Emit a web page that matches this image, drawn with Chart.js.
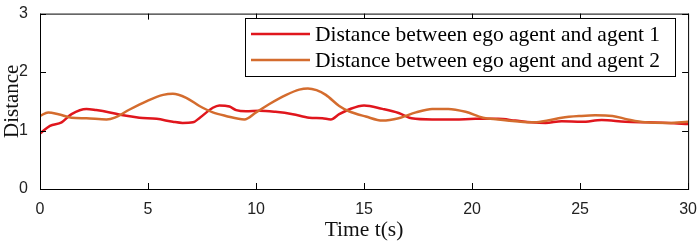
<!DOCTYPE html>
<html>
<head>
<meta charset="utf-8">
<script src="https://cdn.jsdelivr.net/npm/chart.js@4.4.0/dist/chart.umd.min.js"></script>
<style>
  html, body { margin: 0; padding: 0; background: #fff; }
  #wrap { width: 700px; height: 243px; }
</style>
</head>
<body>
<div id="wrap"><canvas id="distChart"></canvas></div>
<script>
// Distance between ego agent and agent 1 (red)
const agent1Time = [0, 0.46, 1.0, 1.46, 2.15, 2.6, 3.23, 3.85, 4.6, 5.4, 6.15, 6.6, 7.08, 7.4, 8.0, 8.3, 8.77, 9.08, 9.54, 10.15, 10.9, 11.7, 12.46, 13.07, 13.46, 13.85, 14.3, 15.0, 15.85, 16.6, 17.2, 18.15, 19.2, 20.15, 21.2, 22.0, 22.75, 23.4, 24.15, 25.07, 26.0, 27.1, 28.15, 29.1, 30];
const agent1Dist = [0.95, 1.08, 1.14, 1.28, 1.37, 1.35, 1.31, 1.26, 1.22, 1.2, 1.15, 1.13, 1.14, 1.22, 1.39, 1.43, 1.41, 1.35, 1.33, 1.34, 1.32, 1.28, 1.22, 1.21, 1.19, 1.28, 1.36, 1.43, 1.37, 1.3, 1.21, 1.19, 1.19, 1.2, 1.2, 1.17, 1.14, 1.13, 1.16, 1.15, 1.18, 1.15, 1.14, 1.13, 1.11];

// Distance between ego agent and agent 2 (orange)
const agent2Time = [0, 0.38, 0.85, 1.46, 2.15, 3.08, 3.46, 4.15, 4.92, 5.7, 6.15, 6.77, 7.38, 8.0, 8.6, 9.46, 10.0, 10.6, 11.4, 12.0, 12.4, 12.8, 13.23, 13.85, 14.3, 15.08, 15.85, 16.6, 17.4, 18.15, 18.9, 19.7, 20.5, 21.2, 22.0, 22.9, 23.5, 24.15, 25.07, 25.7, 26.5, 27.2, 28.0, 29.1, 30];
const agent2Dist = [1.25, 1.31, 1.28, 1.22, 1.21, 1.19, 1.22, 1.36, 1.5, 1.61, 1.63, 1.56, 1.42, 1.31, 1.25, 1.19, 1.31, 1.45, 1.61, 1.70, 1.72, 1.69, 1.61, 1.42, 1.33, 1.24, 1.17, 1.21, 1.31, 1.37, 1.37, 1.32, 1.22, 1.19, 1.16, 1.14, 1.17, 1.22, 1.25, 1.26, 1.25, 1.19, 1.14, 1.13, 1.15];

const seriesLabels = ['Distance between ego agent and agent 1', 'Distance between ego agent and agent 2'];
const xTicks = [0, 5, 10, 15, 20, 25, 30];
const yTicks = [0, 1, 2, 3];

const RED = '#e0161d';
const ORANGE = '#d46c2e';
const SERIF = '"Liberation Serif", "Times New Roman", serif';
const SANS = '"Liberation Sans", Arial, sans-serif';

function toPoints(xs, ys) {
    return xs.map((x, i) => ({ x: x, y: ys[i] }));
}

// box round the plot, inward ticks on all four sides, legend inside the box
const frameAndLegend = {
    id: 'frameAndLegend',
    afterDatasetsDraw(chart) {
        const ctx = chart.ctx;
        const a = chart.chartArea;
        const xs = chart.scales.x;
        const ys = chart.scales.y;
        ctx.save();
        ctx.strokeStyle = '#000';
        ctx.lineWidth = 1;
        ctx.strokeRect(a.left + 0.5, a.top + 0.5, a.right - a.left, a.bottom - a.top);
        ctx.beginPath();
        xTicks.forEach(v => {
            const px = Math.round(xs.getPixelForValue(v)) + 0.5;
            ctx.moveTo(px, a.bottom); ctx.lineTo(px, a.bottom - 6);
            ctx.moveTo(px, a.top); ctx.lineTo(px, a.top + 6);
        });
        yTicks.forEach(v => {
            const py = Math.round(ys.getPixelForValue(v)) + 0.5;
            ctx.moveTo(a.left, py); ctx.lineTo(a.left + 6, py);
            ctx.moveTo(a.right, py); ctx.lineTo(a.right - 6, py);
        });
        ctx.stroke();

        // legend
        const bx = 245.5, by = 18.5, bw = 430, bh = 58;
        ctx.fillStyle = '#fff';
        ctx.fillRect(bx, by, bw, bh);
        ctx.strokeRect(bx, by, bw, bh);
        ctx.font = '21.5px ' + SERIF;
        ctx.textBaseline = 'middle';
        const cols = [RED, ORANGE];
        seriesLabels.forEach((lab, i) => {
            const ly = 34 + i * 26;
            ctx.strokeStyle = cols[i];
            ctx.lineWidth = 2.5;
            ctx.beginPath();
            ctx.moveTo(251, ly); ctx.lineTo(310, ly);
            ctx.stroke();
            ctx.fillStyle = '#000';
            ctx.fillText(lab, 315, ly + 1);
        });
        ctx.restore();
    }
};

const ctx = document.getElementById('distChart').getContext('2d');
new Chart(ctx, {
    type: 'line',
    data: {
        datasets: [
            {
                label: seriesLabels[0],
                data: toPoints(agent1Time, agent1Dist),
                borderColor: RED,
                borderWidth: 2.5,
                pointRadius: 0,
                cubicInterpolationMode: 'monotone',
                order: 1
            },
            {
                label: seriesLabels[1],
                data: toPoints(agent2Time, agent2Dist),
                borderColor: ORANGE,
                borderWidth: 2.5,
                pointRadius: 0,
                cubicInterpolationMode: 'monotone',
                order: 0
            }
        ]
    },
    options: {
        responsive: true,
        maintainAspectRatio: false,
        animation: false,
        layout: { padding: { top: 8, right: 10, left: 0, bottom: 0 } },
        plugins: {
            legend: { display: false },
            tooltip: { enabled: false }
        },
        scales: {
            x: {
                type: 'linear',
                min: 0,
                max: 30,
                afterFit: s => { s.height = 54; },
                afterBuildTicks: s => { s.ticks = xTicks.map(v => ({ value: v })); },
                grid: { display: false },
                border: { display: false },
                ticks: {
                    color: '#222',
                    font: { family: SANS, size: 16 },
                    padding: 3,
                    maxRotation: 0
                },
                title: {
                    display: true,
                    text: 'Time t(s)',
                    color: '#111',
                    font: { family: SERIF, size: 21.5 },
                    padding: { top: 0, bottom: 0 }
                }
            },
            y: {
                min: 0,
                max: 3,
                afterFit: s => { s.width = 40; },
                afterBuildTicks: s => { s.ticks = yTicks.map(v => ({ value: v })); },
                grid: { display: false },
                border: { display: false },
                ticks: {
                    color: '#222',
                    font: { family: SANS, size: 16 },
                    padding: 4
                },
                title: {
                    display: true,
                    text: 'Distance',
                    color: '#111',
                    font: { family: SERIF, size: 21 },
                    padding: { top: 0, bottom: 0 }
                }
            }
        }
    },
    plugins: [frameAndLegend]
});
</script>
</body>
</html>
